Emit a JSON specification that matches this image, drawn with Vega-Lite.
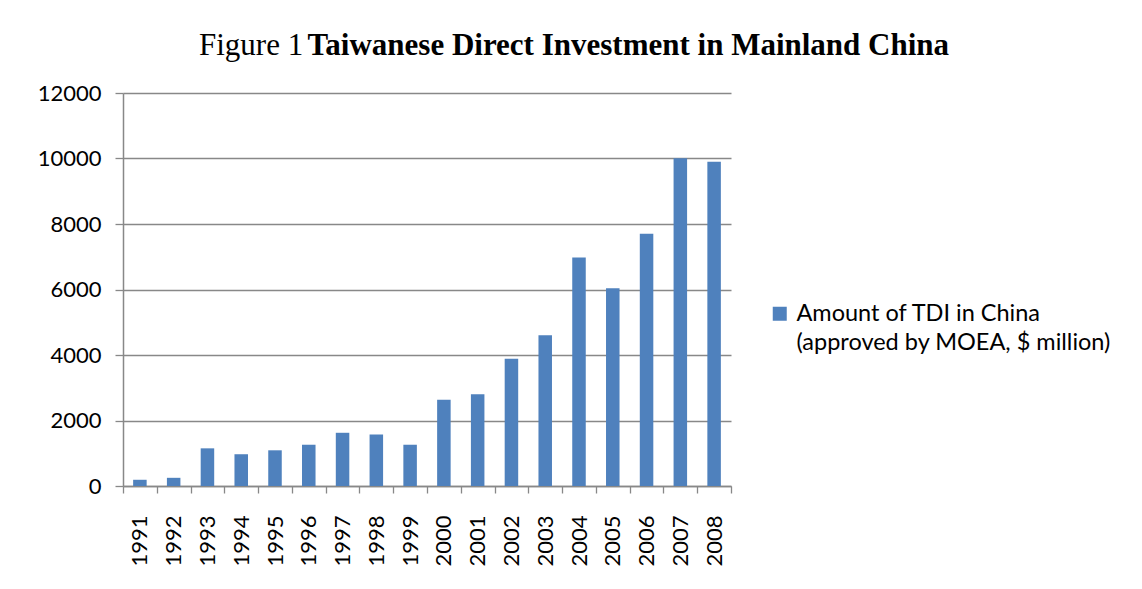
{
  "$schema": "https://vega.github.io/schema/vega-lite/v6.json",
  "width": 608,
  "height": 393,
  "padding": {"left": 37, "top": 30, "right": 0, "bottom": 0},
  "background": "white",
  "title": {
    "text": "Figure 1",
    "subtitle": "\u200b\u00a0\u00a0\u00a0\u00a0\u00a0\u00a0\u00a0\u00a0\u00a0\u00a0\u00a0\u00a0\u00a0\u00a0Taiwanese Direct Investment in Mainland China",
    "anchor": "start",
    "frame": "group",
    "dx": 76,
    "font": "Liberation Serif",
    "fontSize": 31,
    "fontWeight": "normal",
    "color": "black",
    "subtitleFont": "Liberation Serif",
    "subtitleFontSize": 31,
    "subtitleFontWeight": "bold",
    "subtitleColor": "black",
    "subtitlePadding": -31,
    "offset": 20
  },
  "config": {
    "view": {"stroke": null},
    "style": {"guide-label": {"lineHeight": 29}},
    "axis": {
      "labelFont": "Lato",
      "labelFontSize": 22,
      "labelColor": "black",
      "domainColor": "#888888",
      "tickColor": "#888888",
      "gridColor": "#888888",
      "title": null
    }
  },
  "data": {
    "values": [
      {"Year": "1991", "Amount": 190, "Series": "Amount of TDI in China|(approved by MOEA, $ million)"},
      {"Year": "1992", "Amount": 250, "Series": "Amount of TDI in China|(approved by MOEA, $ million)"},
      {"Year": "1993", "Amount": 1150, "Series": "Amount of TDI in China|(approved by MOEA, $ million)"},
      {"Year": "1994", "Amount": 970, "Series": "Amount of TDI in China|(approved by MOEA, $ million)"},
      {"Year": "1995", "Amount": 1090, "Series": "Amount of TDI in China|(approved by MOEA, $ million)"},
      {"Year": "1996", "Amount": 1260, "Series": "Amount of TDI in China|(approved by MOEA, $ million)"},
      {"Year": "1997", "Amount": 1625, "Series": "Amount of TDI in China|(approved by MOEA, $ million)"},
      {"Year": "1998", "Amount": 1570, "Series": "Amount of TDI in China|(approved by MOEA, $ million)"},
      {"Year": "1999", "Amount": 1260, "Series": "Amount of TDI in China|(approved by MOEA, $ million)"},
      {"Year": "2000", "Amount": 2635, "Series": "Amount of TDI in China|(approved by MOEA, $ million)"},
      {"Year": "2001", "Amount": 2805, "Series": "Amount of TDI in China|(approved by MOEA, $ million)"},
      {"Year": "2002", "Amount": 3885, "Series": "Amount of TDI in China|(approved by MOEA, $ million)"},
      {"Year": "2003", "Amount": 4600, "Series": "Amount of TDI in China|(approved by MOEA, $ million)"},
      {"Year": "2004", "Amount": 6980, "Series": "Amount of TDI in China|(approved by MOEA, $ million)"},
      {"Year": "2005", "Amount": 6035, "Series": "Amount of TDI in China|(approved by MOEA, $ million)"},
      {"Year": "2006", "Amount": 7705, "Series": "Amount of TDI in China|(approved by MOEA, $ million)"},
      {"Year": "2007", "Amount": 10010, "Series": "Amount of TDI in China|(approved by MOEA, $ million)"},
      {"Year": "2008", "Amount": 9900, "Series": "Amount of TDI in China|(approved by MOEA, $ million)"}
    ]
  },
  "mark": {"type": "bar", "width": {"band": 0.4}},
  "encoding": {
    "x": {
      "field": "Year",
      "type": "ordinal",
      "scale": {"paddingInner": 0, "paddingOuter": 0},
      "axis": {
        "labelAngle": -90,
        "tickSize": 7,
        "labelPadding": 22,
        "tickBand": "extent",
        "grid": false,
        "domainWidth": 1.5,
        "tickWidth": 1.3
      }
    },
    "y": {
      "field": "Amount",
      "type": "quantitative",
      "scale": {"domain": [0, 12000], "nice": false},
      "axis": {
        "values": [0, 2000, 4000, 6000, 8000, 10000, 12000],
        "format": "d",
        "tickSize": 8,
        "labelPadding": 14,
        "grid": true,
        "gridWidth": 1.3,
        "domainWidth": 1.5,
        "tickWidth": 1.3
      }
    },
    "color": {
      "field": "Series",
      "type": "nominal",
      "scale": {"range": ["#4F81BD"]},
      "legend": {
        "orient": "none",
        "legendX": 645,
        "legendY": 209,
        "title": null,
        "padding": 0,
        "symbolType": "square",
        "symbolSize": 196,
        "symbolStrokeWidth": 0,
        "labelFont": "Lato",
        "labelFontSize": 23.5,
        "labelColor": "black",
        "labelLimit": 0,
        "labelOffset": 5,
        "labelExpr": "split(datum.label, '|')"
      }
    }
  }
}
